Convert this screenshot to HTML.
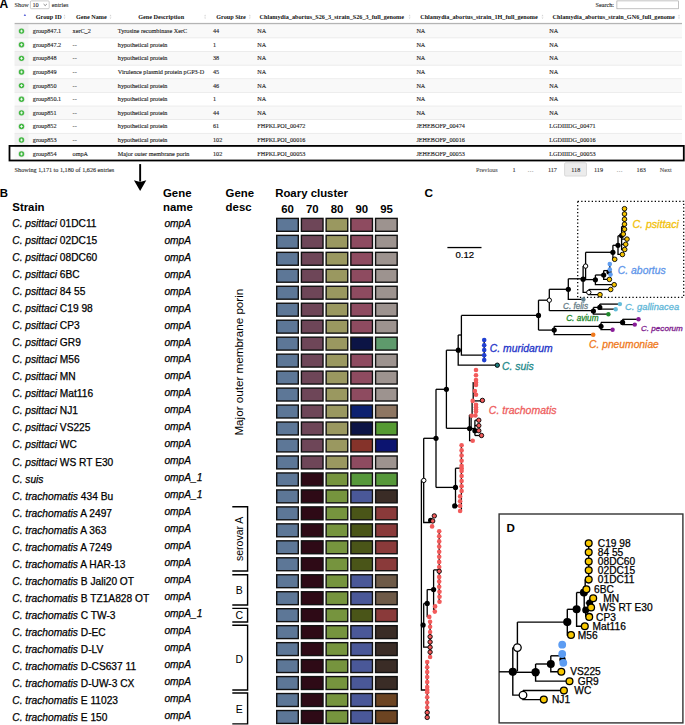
<!DOCTYPE html><html><head><meta charset="utf-8"><title>fig</title><style>
html,body{margin:0;padding:0;background:#fff;}
body{width:685px;height:725px;position:relative;overflow:hidden;}
svg{position:absolute;left:0;top:0;display:block;}
.sf{font-family:"Liberation Serif",serif;}
.ss{font-family:"Liberation Sans",sans-serif;}
</style></head><body>
<svg width="685" height="725" viewBox="0 0 685 725">
<g class="ss"><text x="-0.5" y="7.9" font-size="12" font-weight="bold" fill="#000">A</text></g>
<g class="sf" font-size="6.2" fill="#2a2a2a" stroke="#2a2a2a" stroke-width="0.1">
<text x="14.6" y="7">Show</text>
<rect x="30.4" y="0.9" width="18.8" height="7.8" rx="1" fill="#fff" stroke="#aaa" stroke-width="0.6"/>
<text x="32.5" y="7">10</text>
<path d="M43.6 4.1 L45.2 5.6 L46.8 4.1" fill="none" stroke="#333" stroke-width="0.6"/>
<text x="51.8" y="7">entries</text>
<text x="595.5" y="6.8">Search:</text>
<rect x="616.9" y="0.9" width="61.4" height="7.9" fill="#fff" stroke="#999" stroke-width="0.6"/>
</g>
<rect x="14.6" y="24.30" width="667.40" height="13.62" fill="#f9f9f9"/>
<rect x="14.6" y="24.30" width="13.8" height="13.62" fill="#f1f1f1"/>
<rect x="14.6" y="37.92" width="13.8" height="13.62" fill="#fafafa"/>
<rect x="14.6" y="37.62" width="667.40" height="0.6" fill="#e2e2e2"/>
<rect x="14.6" y="51.54" width="667.40" height="13.62" fill="#f9f9f9"/>
<rect x="14.6" y="51.54" width="13.8" height="13.62" fill="#f1f1f1"/>
<rect x="14.6" y="51.24" width="667.40" height="0.6" fill="#e2e2e2"/>
<rect x="14.6" y="65.16" width="13.8" height="13.62" fill="#fafafa"/>
<rect x="14.6" y="64.86" width="667.40" height="0.6" fill="#e2e2e2"/>
<rect x="14.6" y="78.78" width="667.40" height="13.62" fill="#f9f9f9"/>
<rect x="14.6" y="78.78" width="13.8" height="13.62" fill="#f1f1f1"/>
<rect x="14.6" y="78.48" width="667.40" height="0.6" fill="#e2e2e2"/>
<rect x="14.6" y="92.40" width="13.8" height="13.62" fill="#fafafa"/>
<rect x="14.6" y="92.10" width="667.40" height="0.6" fill="#e2e2e2"/>
<rect x="14.6" y="106.02" width="667.40" height="13.62" fill="#f9f9f9"/>
<rect x="14.6" y="106.02" width="13.8" height="13.62" fill="#f1f1f1"/>
<rect x="14.6" y="105.72" width="667.40" height="0.6" fill="#e2e2e2"/>
<rect x="14.6" y="119.64" width="13.8" height="13.62" fill="#fafafa"/>
<rect x="14.6" y="119.34" width="667.40" height="0.6" fill="#e2e2e2"/>
<rect x="14.6" y="133.26" width="667.40" height="13.62" fill="#f9f9f9"/>
<rect x="14.6" y="133.26" width="13.8" height="13.62" fill="#f1f1f1"/>
<rect x="14.6" y="132.96" width="667.40" height="0.6" fill="#e2e2e2"/>
<rect x="14.6" y="146.88" width="13.8" height="13.62" fill="#fafafa"/>
<rect x="14.6" y="146.58" width="667.40" height="0.6" fill="#e2e2e2"/>
<rect x="14.6" y="22.9" width="667.40" height="1.3" fill="#b4b4b4"/>
<g class="sf" font-size="6.2" font-weight="bold" fill="#111">
<text x="35.8" y="19">Group ID</text>
<text x="76" y="19">Gene Name</text>
<text x="138.2" y="19">Gene Description</text>
<text x="216.2" y="19">Group Size</text>
<text x="259.6" y="19">Chlamydia_abortus_S26_3_strain_S26_3_full_genome</text>
<text x="420.2" y="19">Chlamydia_abortus_strain_1H_full_genome</text>
<text x="552.6" y="19">Chlamydia_abortus_strain_GN6_full_genome</text>
</g>
<g fill="#d4d4d4">
<path d="M63.5 16.3 L64.5 14.6 L65.5 16.3Z M63.5 17.4 L64.5 19.1 L65.5 17.4Z"/>
<path d="M109.5 16.3 L110.5 14.6 L111.5 16.3Z M109.5 17.4 L110.5 19.1 L111.5 17.4Z"/>
<path d="M204.1 16.3 L205.1 14.6 L206.1 16.3Z M204.1 17.4 L205.1 19.1 L206.1 17.4Z"/>
<path d="M248.8 16.3 L249.8 14.6 L250.8 16.3Z M248.8 17.4 L249.8 19.1 L250.8 17.4Z"/>
<path d="M408.6 16.3 L409.6 14.6 L410.6 16.3Z M408.6 17.4 L409.6 19.1 L410.6 17.4Z"/>
<path d="M541.5 16.3 L542.5 14.6 L543.5 16.3Z M541.5 17.4 L542.5 19.1 L543.5 17.4Z"/>
<path d="M678.0 16.3 L679.0 14.6 L680.0 16.3Z M678.0 17.4 L679.0 19.1 L680.0 17.4Z"/>
</g>
<path d="M23.7 15.9 L24.9 13.8 L26.1 15.9Z" fill="#5a64d8"/>
<g class="sf" font-size="6.2" fill="#1e1e1e" stroke="#1e1e1e" stroke-width="0.12">
<text x="32.8" y="33.11">group847.1</text>
<text x="72.6" y="33.11">xerC_2</text>
<text x="117.8" y="33.11">Tyrosine recombinase XerC</text>
<text x="213.0" y="33.11">44</text>
<text x="257.3" y="33.11">NA</text>
<text x="416.4" y="33.11">NA</text>
<text x="549.2" y="33.11">NA</text>
<text x="32.8" y="46.73">group847.2</text>
<text x="72.6" y="46.73">--</text>
<text x="117.8" y="46.73">hypothetical protein</text>
<text x="213.0" y="46.73">1</text>
<text x="257.3" y="46.73">NA</text>
<text x="416.4" y="46.73">NA</text>
<text x="549.2" y="46.73">NA</text>
<text x="32.8" y="60.35">group848</text>
<text x="72.6" y="60.35">--</text>
<text x="117.8" y="60.35">hypothetical protein</text>
<text x="213.0" y="60.35">38</text>
<text x="257.3" y="60.35">NA</text>
<text x="416.4" y="60.35">NA</text>
<text x="549.2" y="60.35">NA</text>
<text x="32.8" y="73.97">group849</text>
<text x="72.6" y="73.97">--</text>
<text x="117.8" y="73.97">Virulence plasmid protein pGP3-D</text>
<text x="213.0" y="73.97">45</text>
<text x="257.3" y="73.97">NA</text>
<text x="416.4" y="73.97">NA</text>
<text x="549.2" y="73.97">NA</text>
<text x="32.8" y="87.59">group850</text>
<text x="72.6" y="87.59">--</text>
<text x="117.8" y="87.59">hypothetical protein</text>
<text x="213.0" y="87.59">46</text>
<text x="257.3" y="87.59">NA</text>
<text x="416.4" y="87.59">NA</text>
<text x="549.2" y="87.59">NA</text>
<text x="32.8" y="101.21">group850.1</text>
<text x="72.6" y="101.21">--</text>
<text x="117.8" y="101.21">hypothetical protein</text>
<text x="213.0" y="101.21">1</text>
<text x="257.3" y="101.21">NA</text>
<text x="416.4" y="101.21">NA</text>
<text x="549.2" y="101.21">NA</text>
<text x="32.8" y="114.83">group851</text>
<text x="72.6" y="114.83">--</text>
<text x="117.8" y="114.83">hypothetical protein</text>
<text x="213.0" y="114.83">44</text>
<text x="257.3" y="114.83">NA</text>
<text x="416.4" y="114.83">NA</text>
<text x="549.2" y="114.83">NA</text>
<text x="32.8" y="128.45">group852</text>
<text x="72.6" y="128.45">--</text>
<text x="117.8" y="128.45">hypothetical protein</text>
<text x="213.0" y="128.45">61</text>
<text x="257.3" y="128.45">FHPKLPOI_00472</text>
<text x="416.4" y="128.45">JEHEBOFP_00474</text>
<text x="549.2" y="128.45">LGDIIIDG_00471</text>
<text x="32.8" y="142.07">group853</text>
<text x="72.6" y="142.07">--</text>
<text x="117.8" y="142.07">hypothetical protein</text>
<text x="213.0" y="142.07">102</text>
<text x="257.3" y="142.07">FHPKLPOI_00016</text>
<text x="416.4" y="142.07">JEHEBOFP_00016</text>
<text x="549.2" y="142.07">LGDIIIDG_00016</text>
<text x="32.8" y="155.99">group854</text>
<text x="72.6" y="155.99">ompA</text>
<text x="117.8" y="155.99">Major outer membrane porin</text>
<text x="213.0" y="155.99">102</text>
<text x="257.3" y="155.99">FHPKLPOI_00053</text>
<text x="416.4" y="155.99">JEHEBOFP_00053</text>
<text x="549.2" y="155.99">LGDIIIDG_00053</text>
</g>
<circle cx="21.5" cy="31.11" r="3.4" fill="#e4e8e4"/>
<circle cx="21.5" cy="31.11" r="2.7" fill="#42b842"/>
<path d="M20.1 31.11 H22.9 M21.5 29.71 V32.51" stroke="#fff" stroke-width="0.8"/>
<circle cx="21.5" cy="44.73" r="3.4" fill="#e4e8e4"/>
<circle cx="21.5" cy="44.73" r="2.7" fill="#42b842"/>
<path d="M20.1 44.73 H22.9 M21.5 43.33 V46.13" stroke="#fff" stroke-width="0.8"/>
<circle cx="21.5" cy="58.35" r="3.4" fill="#e4e8e4"/>
<circle cx="21.5" cy="58.35" r="2.7" fill="#42b842"/>
<path d="M20.1 58.35 H22.9 M21.5 56.95 V59.75" stroke="#fff" stroke-width="0.8"/>
<circle cx="21.5" cy="71.97" r="3.4" fill="#e4e8e4"/>
<circle cx="21.5" cy="71.97" r="2.7" fill="#42b842"/>
<path d="M20.1 71.97 H22.9 M21.5 70.57 V73.37" stroke="#fff" stroke-width="0.8"/>
<circle cx="21.5" cy="85.59" r="3.4" fill="#e4e8e4"/>
<circle cx="21.5" cy="85.59" r="2.7" fill="#42b842"/>
<path d="M20.1 85.59 H22.9 M21.5 84.19 V86.99" stroke="#fff" stroke-width="0.8"/>
<circle cx="21.5" cy="99.21" r="3.4" fill="#e4e8e4"/>
<circle cx="21.5" cy="99.21" r="2.7" fill="#42b842"/>
<path d="M20.1 99.21 H22.9 M21.5 97.81 V100.61" stroke="#fff" stroke-width="0.8"/>
<circle cx="21.5" cy="112.83" r="3.4" fill="#e4e8e4"/>
<circle cx="21.5" cy="112.83" r="2.7" fill="#42b842"/>
<path d="M20.1 112.83 H22.9 M21.5 111.43 V114.23" stroke="#fff" stroke-width="0.8"/>
<circle cx="21.5" cy="126.45" r="3.4" fill="#e4e8e4"/>
<circle cx="21.5" cy="126.45" r="2.7" fill="#42b842"/>
<path d="M20.1 126.45 H22.9 M21.5 125.05 V127.85" stroke="#fff" stroke-width="0.8"/>
<circle cx="21.5" cy="140.07" r="3.4" fill="#e4e8e4"/>
<circle cx="21.5" cy="140.07" r="2.7" fill="#42b842"/>
<path d="M20.1 140.07 H22.9 M21.5 138.67 V141.47" stroke="#fff" stroke-width="0.8"/>
<circle cx="21.5" cy="153.99" r="3.4" fill="#e4e8e4"/>
<circle cx="21.5" cy="153.99" r="2.7" fill="#42b842"/>
<path d="M20.1 153.99 H22.9 M21.5 152.59 V155.39" stroke="#fff" stroke-width="0.8"/>
<rect x="9.5" y="145.9" width="674.3" height="14.6" fill="none" stroke="#000" stroke-width="1.8"/>
<g class="sf" font-size="6.2" fill="#2a2a2a" stroke="#2a2a2a" stroke-width="0.1">
<text x="14.6" y="171.8">Showing 1,171 to 1,180 of 1,626 entries</text>
<rect x="564.6" y="162.7" width="21.9" height="13.4" rx="1.2" fill="#ececec" stroke="#c8c8c8" stroke-width="0.6"/>
<text x="476.1" y="172" fill="#555" stroke="#555">Previous</text>
<text x="512.6" y="172" fill="#2a2a2a" stroke="#2a2a2a">1</text>
<text x="527.6" y="172" fill="#999" stroke="#999">…</text>
<text x="547.9" y="172" fill="#2a2a2a" stroke="#2a2a2a">117</text>
<text x="571.2" y="172" fill="#2a2a2a" stroke="#2a2a2a">118</text>
<text x="594" y="172" fill="#2a2a2a" stroke="#2a2a2a">119</text>
<text x="616.6" y="172" fill="#999" stroke="#999">…</text>
<text x="636.6" y="172" fill="#2a2a2a" stroke="#2a2a2a">163</text>
<text x="659.8" y="172" fill="#555" stroke="#555">Next</text>
</g>
<rect x="139.2" y="164.1" width="1.9" height="17.5" fill="#000"/>
<path d="M133.9 180.2 L140.15 182 L146.3 180.2 L140.15 191Z" fill="#000"/>
<g class="ss" font-weight="bold" font-size="11.4" fill="#000">
<text x="-0.3" y="196.6">B</text>
<text x="12.3" y="211.2">Strain</text>
<text x="163" y="197.4">Gene</text>
<text x="163" y="211.2">name</text>
<text x="225.6" y="197.4">Gene</text>
<text x="225.6" y="211.2">desc</text>
<text x="275.2" y="197.4">Roary cluster</text>
<text x="287.60" y="213.4" text-anchor="middle">60</text>
<text x="312.32" y="213.4" text-anchor="middle">70</text>
<text x="337.04" y="213.4" text-anchor="middle">80</text>
<text x="361.76" y="213.4" text-anchor="middle">90</text>
<text x="386.48" y="213.4" text-anchor="middle">95</text>
</g>
<g class="ss" font-size="10.2" fill="#000" stroke="#000" stroke-width="0.25">
<text x="12.3" y="226.80"><tspan font-style="italic">C. psittaci</tspan> 01DC11</text>
<text x="164.4" y="226.80" font-style="italic">ompA</text>
<text x="12.3" y="243.85"><tspan font-style="italic">C. psittaci</tspan> 02DC15</text>
<text x="164.4" y="243.76" font-style="italic">ompA</text>
<text x="12.3" y="260.90"><tspan font-style="italic">C. psittaci</tspan> 08DC60</text>
<text x="164.4" y="260.72" font-style="italic">ompA</text>
<text x="12.3" y="277.95"><tspan font-style="italic">C. psittaci</tspan> 6BC</text>
<text x="164.4" y="277.68" font-style="italic">ompA</text>
<text x="12.3" y="295.00"><tspan font-style="italic">C. psittaci</tspan> 84 55</text>
<text x="164.4" y="294.64" font-style="italic">ompA</text>
<text x="12.3" y="312.05"><tspan font-style="italic">C. psittaci</tspan> C19 98</text>
<text x="164.4" y="311.60" font-style="italic">ompA</text>
<text x="12.3" y="329.10"><tspan font-style="italic">C. psittaci</tspan> CP3</text>
<text x="164.4" y="328.56" font-style="italic">ompA</text>
<text x="12.3" y="346.15"><tspan font-style="italic">C. psittaci</tspan> GR9</text>
<text x="164.4" y="345.52" font-style="italic">ompA</text>
<text x="12.3" y="363.20"><tspan font-style="italic">C. psittaci</tspan> M56</text>
<text x="164.4" y="362.48" font-style="italic">ompA</text>
<text x="12.3" y="380.25"><tspan font-style="italic">C. psittaci</tspan> MN</text>
<text x="164.4" y="379.44" font-style="italic">ompA</text>
<text x="12.3" y="397.30"><tspan font-style="italic">C. psittaci</tspan> Mat116</text>
<text x="164.4" y="396.40" font-style="italic">ompA</text>
<text x="12.3" y="414.35"><tspan font-style="italic">C. psittaci</tspan> NJ1</text>
<text x="164.4" y="413.36" font-style="italic">ompA</text>
<text x="12.3" y="431.40"><tspan font-style="italic">C. psittaci</tspan> VS225</text>
<text x="164.4" y="430.32" font-style="italic">ompA</text>
<text x="12.3" y="448.45"><tspan font-style="italic">C. psittaci</tspan> WC</text>
<text x="164.4" y="447.28" font-style="italic">ompA</text>
<text x="12.3" y="465.50"><tspan font-style="italic">C. psittaci</tspan> WS RT E30</text>
<text x="164.4" y="464.24" font-style="italic">ompA</text>
<text x="12.3" y="482.55"><tspan font-style="italic">C. suis</tspan></text>
<text x="164.4" y="481.20" font-style="italic">ompA_1</text>
<text x="12.3" y="499.60"><tspan font-style="italic">C. trachomatis</tspan> 434 Bu</text>
<text x="164.4" y="498.16" font-style="italic">ompA_1</text>
<text x="12.3" y="516.65"><tspan font-style="italic">C. trachomatis</tspan> A 2497</text>
<text x="164.4" y="515.12" font-style="italic">ompA</text>
<text x="12.3" y="533.70"><tspan font-style="italic">C. trachomatis</tspan> A 363</text>
<text x="164.4" y="532.08" font-style="italic">ompA</text>
<text x="12.3" y="550.75"><tspan font-style="italic">C. trachomatis</tspan> A 7249</text>
<text x="164.4" y="549.04" font-style="italic">ompA</text>
<text x="12.3" y="567.80"><tspan font-style="italic">C. trachomatis</tspan> A HAR-13</text>
<text x="164.4" y="566.00" font-style="italic">ompA</text>
<text x="12.3" y="584.85"><tspan font-style="italic">C. trachomatis</tspan> B Jali20 OT</text>
<text x="164.4" y="582.96" font-style="italic">ompA</text>
<text x="12.3" y="601.90"><tspan font-style="italic">C. trachomatis</tspan> B TZ1A828 OT</text>
<text x="164.4" y="599.92" font-style="italic">ompA</text>
<text x="12.3" y="618.95"><tspan font-style="italic">C. trachomatis</tspan> C TW-3</text>
<text x="164.4" y="616.88" font-style="italic">ompA_1</text>
<text x="12.3" y="636.00"><tspan font-style="italic">C. trachomatis</tspan> D-EC</text>
<text x="164.4" y="633.84" font-style="italic">ompA</text>
<text x="12.3" y="653.05"><tspan font-style="italic">C. trachomatis</tspan> D-LV</text>
<text x="164.4" y="650.80" font-style="italic">ompA</text>
<text x="12.3" y="670.10"><tspan font-style="italic">C. trachomatis</tspan> D-CS637 11</text>
<text x="164.4" y="667.76" font-style="italic">ompA</text>
<text x="12.3" y="687.15"><tspan font-style="italic">C. trachomatis</tspan> D-UW-3 CX</text>
<text x="164.4" y="684.72" font-style="italic">ompA</text>
<text x="12.3" y="704.20"><tspan font-style="italic">C. trachomatis</tspan> E 11023</text>
<text x="164.4" y="701.68" font-style="italic">ompA</text>
<text x="12.3" y="721.25"><tspan font-style="italic">C. trachomatis</tspan> E 150</text>
<text x="164.4" y="718.64" font-style="italic">ompA</text>
</g>
<text class="ss" font-size="11.65" fill="#000" transform="translate(243.1,435.6) rotate(-90)">Major outer membrane porin</text>
<g fill="none" stroke="#000" stroke-width="1.4">
<path d="M232.3 506.7 H247.6 V571.0 H232.3"/>
<path d="M232.3 574.8 H247.6 V605.0 H232.3"/>
<path d="M232.3 608.4 H247.6 V622.0 H232.3"/>
<path d="M232.3 625.3 H247.6 V690.0 H232.3"/>
<path d="M232.3 693.0 H247.6 V723.9 H232.3"/>
</g>
<text class="ss" font-size="10.5" fill="#000" transform="translate(243.0,561.0) rotate(-90)">serovar A</text>
<g class="ss" font-size="10.5" fill="#000" text-anchor="middle">
<text x="239.3" y="594.10">B</text>
<text x="239.3" y="619.40">C</text>
<text x="239.3" y="662.65">D</text>
<text x="239.3" y="712.65">E</text>
</g>
<rect x="276.70" y="218.40" width="21.60" height="12.90" fill="#5d7797" stroke="#111" stroke-width="1.4"/>
<rect x="301.42" y="218.40" width="21.60" height="12.90" fill="#6e4658" stroke="#111" stroke-width="1.4"/>
<rect x="326.14" y="218.40" width="21.60" height="12.90" fill="#9a9860" stroke="#111" stroke-width="1.4"/>
<rect x="350.86" y="218.40" width="21.60" height="12.90" fill="#8e4b60" stroke="#111" stroke-width="1.4"/>
<rect x="375.58" y="218.40" width="21.60" height="12.90" fill="#9d938f" stroke="#111" stroke-width="1.4"/>
<rect x="276.70" y="235.37" width="21.60" height="12.90" fill="#5d7797" stroke="#111" stroke-width="1.4"/>
<rect x="301.42" y="235.37" width="21.60" height="12.90" fill="#6e4658" stroke="#111" stroke-width="1.4"/>
<rect x="326.14" y="235.37" width="21.60" height="12.90" fill="#9a9860" stroke="#111" stroke-width="1.4"/>
<rect x="350.86" y="235.37" width="21.60" height="12.90" fill="#8e4b60" stroke="#111" stroke-width="1.4"/>
<rect x="375.58" y="235.37" width="21.60" height="12.90" fill="#9d938f" stroke="#111" stroke-width="1.4"/>
<rect x="276.70" y="252.34" width="21.60" height="12.90" fill="#5d7797" stroke="#111" stroke-width="1.4"/>
<rect x="301.42" y="252.34" width="21.60" height="12.90" fill="#6e4658" stroke="#111" stroke-width="1.4"/>
<rect x="326.14" y="252.34" width="21.60" height="12.90" fill="#9a9860" stroke="#111" stroke-width="1.4"/>
<rect x="350.86" y="252.34" width="21.60" height="12.90" fill="#8e4b60" stroke="#111" stroke-width="1.4"/>
<rect x="375.58" y="252.34" width="21.60" height="12.90" fill="#9d938f" stroke="#111" stroke-width="1.4"/>
<rect x="276.70" y="269.31" width="21.60" height="12.90" fill="#5d7797" stroke="#111" stroke-width="1.4"/>
<rect x="301.42" y="269.31" width="21.60" height="12.90" fill="#6e4658" stroke="#111" stroke-width="1.4"/>
<rect x="326.14" y="269.31" width="21.60" height="12.90" fill="#9a9860" stroke="#111" stroke-width="1.4"/>
<rect x="350.86" y="269.31" width="21.60" height="12.90" fill="#8e4b60" stroke="#111" stroke-width="1.4"/>
<rect x="375.58" y="269.31" width="21.60" height="12.90" fill="#9d938f" stroke="#111" stroke-width="1.4"/>
<rect x="276.70" y="286.28" width="21.60" height="12.90" fill="#5d7797" stroke="#111" stroke-width="1.4"/>
<rect x="301.42" y="286.28" width="21.60" height="12.90" fill="#6e4658" stroke="#111" stroke-width="1.4"/>
<rect x="326.14" y="286.28" width="21.60" height="12.90" fill="#9a9860" stroke="#111" stroke-width="1.4"/>
<rect x="350.86" y="286.28" width="21.60" height="12.90" fill="#8e4b60" stroke="#111" stroke-width="1.4"/>
<rect x="375.58" y="286.28" width="21.60" height="12.90" fill="#9d938f" stroke="#111" stroke-width="1.4"/>
<rect x="276.70" y="303.25" width="21.60" height="12.90" fill="#5d7797" stroke="#111" stroke-width="1.4"/>
<rect x="301.42" y="303.25" width="21.60" height="12.90" fill="#6e4658" stroke="#111" stroke-width="1.4"/>
<rect x="326.14" y="303.25" width="21.60" height="12.90" fill="#9a9860" stroke="#111" stroke-width="1.4"/>
<rect x="350.86" y="303.25" width="21.60" height="12.90" fill="#8e4b60" stroke="#111" stroke-width="1.4"/>
<rect x="375.58" y="303.25" width="21.60" height="12.90" fill="#9d938f" stroke="#111" stroke-width="1.4"/>
<rect x="276.70" y="320.22" width="21.60" height="12.90" fill="#5d7797" stroke="#111" stroke-width="1.4"/>
<rect x="301.42" y="320.22" width="21.60" height="12.90" fill="#6e4658" stroke="#111" stroke-width="1.4"/>
<rect x="326.14" y="320.22" width="21.60" height="12.90" fill="#9a9860" stroke="#111" stroke-width="1.4"/>
<rect x="350.86" y="320.22" width="21.60" height="12.90" fill="#8e4b60" stroke="#111" stroke-width="1.4"/>
<rect x="375.58" y="320.22" width="21.60" height="12.90" fill="#9d938f" stroke="#111" stroke-width="1.4"/>
<rect x="276.70" y="337.19" width="21.60" height="12.90" fill="#5d7797" stroke="#111" stroke-width="1.4"/>
<rect x="301.42" y="337.19" width="21.60" height="12.90" fill="#6e4658" stroke="#111" stroke-width="1.4"/>
<rect x="326.14" y="337.19" width="21.60" height="12.90" fill="#9a9860" stroke="#111" stroke-width="1.4"/>
<rect x="350.86" y="337.19" width="21.60" height="12.90" fill="#0c1445" stroke="#111" stroke-width="1.4"/>
<rect x="375.58" y="337.19" width="21.60" height="12.90" fill="#5e9a6c" stroke="#111" stroke-width="1.4"/>
<rect x="276.70" y="354.16" width="21.60" height="12.90" fill="#5d7797" stroke="#111" stroke-width="1.4"/>
<rect x="301.42" y="354.16" width="21.60" height="12.90" fill="#6e4658" stroke="#111" stroke-width="1.4"/>
<rect x="326.14" y="354.16" width="21.60" height="12.90" fill="#9a9860" stroke="#111" stroke-width="1.4"/>
<rect x="350.86" y="354.16" width="21.60" height="12.90" fill="#8e4b60" stroke="#111" stroke-width="1.4"/>
<rect x="375.58" y="354.16" width="21.60" height="12.90" fill="#9d938f" stroke="#111" stroke-width="1.4"/>
<rect x="276.70" y="371.13" width="21.60" height="12.90" fill="#5d7797" stroke="#111" stroke-width="1.4"/>
<rect x="301.42" y="371.13" width="21.60" height="12.90" fill="#6e4658" stroke="#111" stroke-width="1.4"/>
<rect x="326.14" y="371.13" width="21.60" height="12.90" fill="#9a9860" stroke="#111" stroke-width="1.4"/>
<rect x="350.86" y="371.13" width="21.60" height="12.90" fill="#8e4b60" stroke="#111" stroke-width="1.4"/>
<rect x="375.58" y="371.13" width="21.60" height="12.90" fill="#9d938f" stroke="#111" stroke-width="1.4"/>
<rect x="276.70" y="388.10" width="21.60" height="12.90" fill="#5d7797" stroke="#111" stroke-width="1.4"/>
<rect x="301.42" y="388.10" width="21.60" height="12.90" fill="#6e4658" stroke="#111" stroke-width="1.4"/>
<rect x="326.14" y="388.10" width="21.60" height="12.90" fill="#9a9860" stroke="#111" stroke-width="1.4"/>
<rect x="350.86" y="388.10" width="21.60" height="12.90" fill="#8e4b60" stroke="#111" stroke-width="1.4"/>
<rect x="375.58" y="388.10" width="21.60" height="12.90" fill="#9d938f" stroke="#111" stroke-width="1.4"/>
<rect x="276.70" y="405.07" width="21.60" height="12.90" fill="#5d7797" stroke="#111" stroke-width="1.4"/>
<rect x="301.42" y="405.07" width="21.60" height="12.90" fill="#6e4658" stroke="#111" stroke-width="1.4"/>
<rect x="326.14" y="405.07" width="21.60" height="12.90" fill="#9a9860" stroke="#111" stroke-width="1.4"/>
<rect x="350.86" y="405.07" width="21.60" height="12.90" fill="#0c2170" stroke="#111" stroke-width="1.4"/>
<rect x="375.58" y="405.07" width="21.60" height="12.90" fill="#8e7662" stroke="#111" stroke-width="1.4"/>
<rect x="276.70" y="422.04" width="21.60" height="12.90" fill="#5d7797" stroke="#111" stroke-width="1.4"/>
<rect x="301.42" y="422.04" width="21.60" height="12.90" fill="#6e4658" stroke="#111" stroke-width="1.4"/>
<rect x="326.14" y="422.04" width="21.60" height="12.90" fill="#9a9860" stroke="#111" stroke-width="1.4"/>
<rect x="350.86" y="422.04" width="21.60" height="12.90" fill="#0c1445" stroke="#111" stroke-width="1.4"/>
<rect x="375.58" y="422.04" width="21.60" height="12.90" fill="#559a32" stroke="#111" stroke-width="1.4"/>
<rect x="276.70" y="439.01" width="21.60" height="12.90" fill="#5d7797" stroke="#111" stroke-width="1.4"/>
<rect x="301.42" y="439.01" width="21.60" height="12.90" fill="#6e4658" stroke="#111" stroke-width="1.4"/>
<rect x="326.14" y="439.01" width="21.60" height="12.90" fill="#9a9860" stroke="#111" stroke-width="1.4"/>
<rect x="350.86" y="439.01" width="21.60" height="12.90" fill="#85332a" stroke="#111" stroke-width="1.4"/>
<rect x="375.58" y="439.01" width="21.60" height="12.90" fill="#0c1470" stroke="#111" stroke-width="1.4"/>
<rect x="276.70" y="455.98" width="21.60" height="12.90" fill="#5d7797" stroke="#111" stroke-width="1.4"/>
<rect x="301.42" y="455.98" width="21.60" height="12.90" fill="#6e4658" stroke="#111" stroke-width="1.4"/>
<rect x="326.14" y="455.98" width="21.60" height="12.90" fill="#9a9860" stroke="#111" stroke-width="1.4"/>
<rect x="350.86" y="455.98" width="21.60" height="12.90" fill="#8e4b60" stroke="#111" stroke-width="1.4"/>
<rect x="375.58" y="455.98" width="21.60" height="12.90" fill="#9d938f" stroke="#111" stroke-width="1.4"/>
<rect x="276.70" y="472.95" width="21.60" height="12.90" fill="#5d7797" stroke="#111" stroke-width="1.4"/>
<rect x="301.42" y="472.95" width="21.60" height="12.90" fill="#2e0a16" stroke="#111" stroke-width="1.4"/>
<rect x="326.14" y="472.95" width="21.60" height="12.90" fill="#76943e" stroke="#111" stroke-width="1.4"/>
<rect x="350.86" y="472.95" width="21.60" height="12.90" fill="#56983a" stroke="#111" stroke-width="1.4"/>
<rect x="375.58" y="472.95" width="21.60" height="12.90" fill="#56983a" stroke="#111" stroke-width="1.4"/>
<rect x="276.70" y="489.92" width="21.60" height="12.90" fill="#5d7797" stroke="#111" stroke-width="1.4"/>
<rect x="301.42" y="489.92" width="21.60" height="12.90" fill="#2e0a16" stroke="#111" stroke-width="1.4"/>
<rect x="326.14" y="489.92" width="21.60" height="12.90" fill="#76943e" stroke="#111" stroke-width="1.4"/>
<rect x="350.86" y="489.92" width="21.60" height="12.90" fill="#4a5898" stroke="#111" stroke-width="1.4"/>
<rect x="375.58" y="489.92" width="21.60" height="12.90" fill="#3a2c26" stroke="#111" stroke-width="1.4"/>
<rect x="276.70" y="506.89" width="21.60" height="12.90" fill="#5d7797" stroke="#111" stroke-width="1.4"/>
<rect x="301.42" y="506.89" width="21.60" height="12.90" fill="#2e0a16" stroke="#111" stroke-width="1.4"/>
<rect x="326.14" y="506.89" width="21.60" height="12.90" fill="#76943e" stroke="#111" stroke-width="1.4"/>
<rect x="350.86" y="506.89" width="21.60" height="12.90" fill="#4a5518" stroke="#111" stroke-width="1.4"/>
<rect x="375.58" y="506.89" width="21.60" height="12.90" fill="#8a3a3a" stroke="#111" stroke-width="1.4"/>
<rect x="276.70" y="523.86" width="21.60" height="12.90" fill="#5d7797" stroke="#111" stroke-width="1.4"/>
<rect x="301.42" y="523.86" width="21.60" height="12.90" fill="#2e0a16" stroke="#111" stroke-width="1.4"/>
<rect x="326.14" y="523.86" width="21.60" height="12.90" fill="#76943e" stroke="#111" stroke-width="1.4"/>
<rect x="350.86" y="523.86" width="21.60" height="12.90" fill="#4a5518" stroke="#111" stroke-width="1.4"/>
<rect x="375.58" y="523.86" width="21.60" height="12.90" fill="#8a3a3a" stroke="#111" stroke-width="1.4"/>
<rect x="276.70" y="540.83" width="21.60" height="12.90" fill="#5d7797" stroke="#111" stroke-width="1.4"/>
<rect x="301.42" y="540.83" width="21.60" height="12.90" fill="#2e0a16" stroke="#111" stroke-width="1.4"/>
<rect x="326.14" y="540.83" width="21.60" height="12.90" fill="#76943e" stroke="#111" stroke-width="1.4"/>
<rect x="350.86" y="540.83" width="21.60" height="12.90" fill="#4a5518" stroke="#111" stroke-width="1.4"/>
<rect x="375.58" y="540.83" width="21.60" height="12.90" fill="#8a3a3a" stroke="#111" stroke-width="1.4"/>
<rect x="276.70" y="557.80" width="21.60" height="12.90" fill="#5d7797" stroke="#111" stroke-width="1.4"/>
<rect x="301.42" y="557.80" width="21.60" height="12.90" fill="#2e0a16" stroke="#111" stroke-width="1.4"/>
<rect x="326.14" y="557.80" width="21.60" height="12.90" fill="#76943e" stroke="#111" stroke-width="1.4"/>
<rect x="350.86" y="557.80" width="21.60" height="12.90" fill="#4a5518" stroke="#111" stroke-width="1.4"/>
<rect x="375.58" y="557.80" width="21.60" height="12.90" fill="#8a3a3a" stroke="#111" stroke-width="1.4"/>
<rect x="276.70" y="574.77" width="21.60" height="12.90" fill="#5d7797" stroke="#111" stroke-width="1.4"/>
<rect x="301.42" y="574.77" width="21.60" height="12.90" fill="#2e0a16" stroke="#111" stroke-width="1.4"/>
<rect x="326.14" y="574.77" width="21.60" height="12.90" fill="#76943e" stroke="#111" stroke-width="1.4"/>
<rect x="350.86" y="574.77" width="21.60" height="12.90" fill="#4a5898" stroke="#111" stroke-width="1.4"/>
<rect x="375.58" y="574.77" width="21.60" height="12.90" fill="#6e5a48" stroke="#111" stroke-width="1.4"/>
<rect x="276.70" y="591.74" width="21.60" height="12.90" fill="#5d7797" stroke="#111" stroke-width="1.4"/>
<rect x="301.42" y="591.74" width="21.60" height="12.90" fill="#2e0a16" stroke="#111" stroke-width="1.4"/>
<rect x="326.14" y="591.74" width="21.60" height="12.90" fill="#76943e" stroke="#111" stroke-width="1.4"/>
<rect x="350.86" y="591.74" width="21.60" height="12.90" fill="#4a5898" stroke="#111" stroke-width="1.4"/>
<rect x="375.58" y="591.74" width="21.60" height="12.90" fill="#6e5a48" stroke="#111" stroke-width="1.4"/>
<rect x="276.70" y="608.71" width="21.60" height="12.90" fill="#5d7797" stroke="#111" stroke-width="1.4"/>
<rect x="301.42" y="608.71" width="21.60" height="12.90" fill="#2e0a16" stroke="#111" stroke-width="1.4"/>
<rect x="326.14" y="608.71" width="21.60" height="12.90" fill="#76943e" stroke="#111" stroke-width="1.4"/>
<rect x="350.86" y="608.71" width="21.60" height="12.90" fill="#4a5518" stroke="#111" stroke-width="1.4"/>
<rect x="375.58" y="608.71" width="21.60" height="12.90" fill="#8a3a3a" stroke="#111" stroke-width="1.4"/>
<rect x="276.70" y="625.68" width="21.60" height="12.90" fill="#5d7797" stroke="#111" stroke-width="1.4"/>
<rect x="301.42" y="625.68" width="21.60" height="12.90" fill="#2e0a16" stroke="#111" stroke-width="1.4"/>
<rect x="326.14" y="625.68" width="21.60" height="12.90" fill="#76943e" stroke="#111" stroke-width="1.4"/>
<rect x="350.86" y="625.68" width="21.60" height="12.90" fill="#4a5898" stroke="#111" stroke-width="1.4"/>
<rect x="375.58" y="625.68" width="21.60" height="12.90" fill="#3a2c26" stroke="#111" stroke-width="1.4"/>
<rect x="276.70" y="642.65" width="21.60" height="12.90" fill="#5d7797" stroke="#111" stroke-width="1.4"/>
<rect x="301.42" y="642.65" width="21.60" height="12.90" fill="#2e0a16" stroke="#111" stroke-width="1.4"/>
<rect x="326.14" y="642.65" width="21.60" height="12.90" fill="#76943e" stroke="#111" stroke-width="1.4"/>
<rect x="350.86" y="642.65" width="21.60" height="12.90" fill="#4a5898" stroke="#111" stroke-width="1.4"/>
<rect x="375.58" y="642.65" width="21.60" height="12.90" fill="#3a2c26" stroke="#111" stroke-width="1.4"/>
<rect x="276.70" y="659.62" width="21.60" height="12.90" fill="#5d7797" stroke="#111" stroke-width="1.4"/>
<rect x="301.42" y="659.62" width="21.60" height="12.90" fill="#2e0a16" stroke="#111" stroke-width="1.4"/>
<rect x="326.14" y="659.62" width="21.60" height="12.90" fill="#76943e" stroke="#111" stroke-width="1.4"/>
<rect x="350.86" y="659.62" width="21.60" height="12.90" fill="#4a5898" stroke="#111" stroke-width="1.4"/>
<rect x="375.58" y="659.62" width="21.60" height="12.90" fill="#3a2c26" stroke="#111" stroke-width="1.4"/>
<rect x="276.70" y="676.59" width="21.60" height="12.90" fill="#5d7797" stroke="#111" stroke-width="1.4"/>
<rect x="301.42" y="676.59" width="21.60" height="12.90" fill="#2e0a16" stroke="#111" stroke-width="1.4"/>
<rect x="326.14" y="676.59" width="21.60" height="12.90" fill="#76943e" stroke="#111" stroke-width="1.4"/>
<rect x="350.86" y="676.59" width="21.60" height="12.90" fill="#4a5898" stroke="#111" stroke-width="1.4"/>
<rect x="375.58" y="676.59" width="21.60" height="12.90" fill="#3a2c26" stroke="#111" stroke-width="1.4"/>
<rect x="276.70" y="693.56" width="21.60" height="12.90" fill="#5d7797" stroke="#111" stroke-width="1.4"/>
<rect x="301.42" y="693.56" width="21.60" height="12.90" fill="#2e0a16" stroke="#111" stroke-width="1.4"/>
<rect x="326.14" y="693.56" width="21.60" height="12.90" fill="#76943e" stroke="#111" stroke-width="1.4"/>
<rect x="350.86" y="693.56" width="21.60" height="12.90" fill="#4a5898" stroke="#111" stroke-width="1.4"/>
<rect x="375.58" y="693.56" width="21.60" height="12.90" fill="#6c4422" stroke="#111" stroke-width="1.4"/>
<rect x="276.70" y="710.53" width="21.60" height="12.90" fill="#5d7797" stroke="#111" stroke-width="1.4"/>
<rect x="301.42" y="710.53" width="21.60" height="12.90" fill="#2e0a16" stroke="#111" stroke-width="1.4"/>
<rect x="326.14" y="710.53" width="21.60" height="12.90" fill="#76943e" stroke="#111" stroke-width="1.4"/>
<rect x="350.86" y="710.53" width="21.60" height="12.90" fill="#4a5898" stroke="#111" stroke-width="1.4"/>
<rect x="375.58" y="710.53" width="21.60" height="12.90" fill="#6c4422" stroke="#111" stroke-width="1.4"/>
<text class="ss" x="424.4" y="197" font-size="11.8" font-weight="bold" fill="#000">C</text>
<rect x="447.4" y="246.9" width="34.1" height="1.3" fill="#000"/>
<text class="ss" x="455.4" y="257.7" font-size="9.6" fill="#000" stroke="#000" stroke-width="0.2">0.12</text>
<rect x="577.7" y="201.3" width="106" height="96" fill="none" stroke="#000" stroke-width="1.3" stroke-dasharray="1.3 2.2"/>
<g fill="none" stroke="#000" stroke-width="1.3">
<path d="M423.8 480.4 H421.4 V690 H426.5"/>
<path d="M423.7 438.3 V522.5 H430.6"/>
<path d="M423.7 438.3 H436"/>
<path d="M436 389.3 V487.4"/>
<path d="M436 389.3 H446.4"/>
<path d="M436 487.4 H455.5"/>
<path d="M446.4 350.2 V428.3"/>
<path d="M446.4 350.2 H458.3"/>
<path d="M446.4 428.3 H469.6"/>
<path d="M458.2 335 V365.2 H497.3"/>
<path d="M458.2 335 H461.4"/>
<path d="M461.4 315.4 V355.2 H484.2"/>
<path d="M461.4 315.4 H538.5"/>
<path d="M538.5 300.2 V330.1"/>
<path d="M538.5 300.2 H549.3"/>
<path d="M538.5 330.1 H554.2"/>
<path d="M549.3 289.3 V310.7"/>
<path d="M549.3 289.3 H568.3"/>
<path d="M549.3 310.7 H593.4"/>
<path d="M568.3 278.8 V299.4 H583.4"/>
<path d="M568.3 278.8 H583.1"/>
<path d="M583.1 266.1 V292.4 H588.8"/>
<path d="M585.6 252.3 V279.3"/>
<path d="M585.6 252.3 H612.9"/>
<path d="M583.1 279.6 H595.4"/>
<path d="M612.9 245.3 V259.3 H614.7"/>
<path d="M612.9 245.3 H618"/>
<path d="M618 235.8 V254.4 H622.4"/>
<path d="M618 235.8 H621.6"/>
<path d="M621.6 226.5 V249.5 H624.7"/>
<path d="M621.6 226.5 H624.5"/>
<path d="M621.6 239.1 H627"/>
<path d="M621.6 244.3 H625.7"/>
<path d="M624.5 208.7 V234.1"/>
<path d="M595.4 275 V284.7 H614.2"/>
<path d="M595.4 275 H603.7"/>
<path d="M603.7 270.6 V279.4 H609.4"/>
<path d="M603.7 270.6 H609.8"/>
<path d="M609.8 264.1 V274.6"/>
<path d="M588.8 289.5 V294.6 H600"/>
<path d="M588.8 289.5 H610.7"/>
<path d="M593.4 307.4 V314.2 H608.4"/>
<path d="M593.4 307.4 H599.8"/>
<path d="M599.8 304.1 V309.2 H615.7"/>
<path d="M599.8 304.1 H619.9"/>
<path d="M554.2 326.3 V334.7 H593.2"/>
<path d="M554.2 326.3 H601"/>
<path d="M601 322.4 V329.7 H612.6"/>
<path d="M601 322.4 H622.6"/>
<path d="M622.6 319.3 V324.6 H634.8"/>
<path d="M622.6 319.3 H638.5"/>
<path d="M484.2 340 V360.1"/>
<path d="M469.6 428.5 V440.7 H472.7"/>
<path d="M469.4 415 V428.5"/>
<path d="M471.1 415 V428.5"/>
<path d="M469.4 415 H472.1"/>
<path d="M472.1 400.9 V415"/>
<path d="M473.2 382 V401"/>
<path d="M472.7 400.9 H482.4"/>
<path d="M469.6 428.5 H474.9"/>
<path d="M474.9 420.2 V435.5"/>
<path d="M474.9 420.2 H478.8"/>
<path d="M474.9 425.6 H478.8"/>
<path d="M474.9 435.5 H481.5"/>
<path d="M455.5 468.2 V505.9 H460.1"/>
<path d="M455.5 468.2 H461.6"/>
<path d="M461.4 445.3 V511"/>
<path d="M423.7 603.4 V647.2 H429.5"/>
<path d="M421.4 625 H423.7"/>
<path d="M423.7 603.4 H427.2"/>
<path d="M427.2 589.6 V616.6 H429.3"/>
<path d="M427.2 589.6 H433.6"/>
<path d="M433.6 569.9 V609.3 H435"/>
<path d="M433.6 569.9 H439.2"/>
<path d="M439.2 531.2 V601.7"/>
<path d="M430.1 621.8 V657"/>
<path d="M427.2 662 V717.4"/>
</g>
<circle cx="436" cy="438.3" r="2.6" fill="#000"/>
<circle cx="446.4" cy="389.3" r="2.6" fill="#000"/>
<circle cx="458.3" cy="350.2" r="2.6" fill="#000"/>
<circle cx="538.5" cy="315.4" r="2.6" fill="#000"/>
<circle cx="568.3" cy="289.3" r="2.6" fill="#000"/>
<circle cx="583.1" cy="279.2" r="2.6" fill="#000"/>
<circle cx="612.9" cy="252.3" r="2.6" fill="#000"/>
<circle cx="618" cy="245.3" r="2.6" fill="#000"/>
<circle cx="621.6" cy="235.6" r="2.6" fill="#000"/>
<circle cx="595.4" cy="279.8" r="2.6" fill="#000"/>
<circle cx="603.7" cy="275" r="2.6" fill="#000"/>
<circle cx="593.4" cy="311" r="2.6" fill="#000"/>
<circle cx="599.8" cy="307.4" r="2.6" fill="#000"/>
<circle cx="554.2" cy="330.1" r="2.6" fill="#000"/>
<circle cx="601" cy="326.3" r="2.6" fill="#000"/>
<circle cx="622.6" cy="322.4" r="2.6" fill="#000"/>
<circle cx="469.6" cy="428.5" r="2.6" fill="#000"/>
<circle cx="474.9" cy="430.7" r="2.6" fill="#000"/>
<circle cx="455.5" cy="487.4" r="2.6" fill="#000"/>
<circle cx="454.7" cy="505.9" r="2.6" fill="#000"/>
<circle cx="430.6" cy="520.3" r="2.6" fill="#000"/>
<circle cx="427.2" cy="603.4" r="2.6" fill="#000"/>
<circle cx="423.1" cy="625" r="2.6" fill="#000"/>
<circle cx="433.6" cy="589.6" r="2.6" fill="#000"/>
<circle cx="609" cy="272" r="2.6" fill="#000"/>
<circle cx="423.8" cy="480.4" r="2.2" fill="#fff" stroke="#000" stroke-width="1.0"/>
<circle cx="549.3" cy="300.2" r="2.2" fill="#fff" stroke="#000" stroke-width="1.0"/>
<circle cx="585.6" cy="266.1" r="2.2" fill="#fff" stroke="#000" stroke-width="1.0"/>
<circle cx="588.8" cy="292.4" r="2.2" fill="#fff" stroke="#000" stroke-width="1.0"/>
<circle cx="624.5" cy="208.7" r="2.3" fill="#f5c300" stroke="#000" stroke-width="0.9"/>
<circle cx="624.5" cy="214.0" r="2.3" fill="#f5c300" stroke="#000" stroke-width="0.9"/>
<circle cx="624.5" cy="219.2" r="2.3" fill="#f5c300" stroke="#000" stroke-width="0.9"/>
<circle cx="624.5" cy="224.2" r="2.3" fill="#f5c300" stroke="#000" stroke-width="0.9"/>
<circle cx="624.5" cy="229.2" r="2.3" fill="#f5c300" stroke="#000" stroke-width="0.9"/>
<circle cx="623.3" cy="234.1" r="2.3" fill="#f5c300" stroke="#000" stroke-width="0.9"/>
<circle cx="627" cy="239.1" r="2.3" fill="#f5c300" stroke="#000" stroke-width="0.9"/>
<circle cx="625.7" cy="244.3" r="2.3" fill="#f5c300" stroke="#000" stroke-width="0.9"/>
<circle cx="624.7" cy="249.5" r="2.3" fill="#f5c300" stroke="#000" stroke-width="0.9"/>
<circle cx="622.4" cy="254.5" r="2.3" fill="#f5c300" stroke="#000" stroke-width="0.9"/>
<circle cx="614.7" cy="259.3" r="2.3" fill="#f5c300" stroke="#000" stroke-width="0.9"/>
<circle cx="609.4" cy="279.4" r="2.3" fill="#f5c300" stroke="#000" stroke-width="0.9"/>
<circle cx="614.2" cy="284.7" r="2.3" fill="#f5c300" stroke="#000" stroke-width="0.9"/>
<circle cx="610.7" cy="289.5" r="2.3" fill="#f5c300" stroke="#000" stroke-width="0.9"/>
<circle cx="600" cy="294.7" r="2.3" fill="#f5c300" stroke="#000" stroke-width="0.9"/>
<circle cx="609.8" cy="264.1" r="2.3" fill="#5e9cf0"/>
<circle cx="609.8" cy="269.6" r="2.3" fill="#5e9cf0"/>
<circle cx="610.5" cy="274.6" r="2.3" fill="#5e9cf0"/>
<circle cx="583.4" cy="299.5" r="2.2" fill="#5f8090"/>
<circle cx="608.4" cy="314.2" r="2.2" fill="#21892c"/>
<circle cx="619.9" cy="304.1" r="2.2" fill="#63bcd9"/>
<circle cx="615.7" cy="309.2" r="2.2" fill="#63bcd9"/>
<circle cx="593.2" cy="334.8" r="2.3" fill="#f07a1e"/>
<circle cx="612.6" cy="329.7" r="2.2" fill="#881c98"/>
<circle cx="638.5" cy="319.3" r="2.2" fill="#881c98"/>
<circle cx="634.8" cy="324.6" r="2.2" fill="#881c98"/>
<circle cx="484.2" cy="340" r="2.3" fill="#2140d2"/>
<circle cx="484.2" cy="345.2" r="2.3" fill="#2140d2"/>
<circle cx="484.2" cy="350" r="2.3" fill="#2140d2"/>
<circle cx="484.2" cy="355.2" r="2.3" fill="#2140d2"/>
<circle cx="484.2" cy="360.1" r="2.3" fill="#2140d2"/>
<circle cx="497.3" cy="365.2" r="2.2" fill="#1a7d7d" stroke="#000" stroke-width="0.9"/>
<circle cx="476" cy="370" r="2.3" fill="#f25b5b"/>
<circle cx="476" cy="375.2" r="2.3" fill="#f25b5b"/>
<circle cx="476" cy="380" r="2.3" fill="#f25b5b"/>
<circle cx="476" cy="382.5" r="2.3" fill="#f25b5b"/>
<circle cx="476" cy="385" r="2.3" fill="#f25b5b"/>
<circle cx="474.9" cy="391" r="2.3" fill="#f25b5b"/>
<circle cx="476" cy="394.8" r="2.3" fill="#f25b5b"/>
<circle cx="472.7" cy="400.9" r="2.3" fill="#f25b5b"/>
<circle cx="476" cy="404.8" r="2.3" fill="#f25b5b"/>
<circle cx="476" cy="407.2" r="2.3" fill="#f25b5b"/>
<circle cx="476" cy="409.5" r="2.3" fill="#f25b5b"/>
<circle cx="476" cy="411.6" r="2.3" fill="#f25b5b"/>
<circle cx="471.6" cy="415.8" r="2.3" fill="#f25b5b"/>
<circle cx="475.4" cy="415.5" r="2.3" fill="#f25b5b"/>
<circle cx="472.7" cy="440.7" r="2.3" fill="#f25b5b"/>
<circle cx="461.6" cy="445.3" r="2.3" fill="#f25b5b"/>
<circle cx="461.6" cy="450.4" r="2.3" fill="#f25b5b"/>
<circle cx="461.6" cy="455.5" r="2.3" fill="#f25b5b"/>
<circle cx="461.6" cy="460.7" r="2.3" fill="#f25b5b"/>
<circle cx="461.6" cy="465.8" r="2.3" fill="#f25b5b"/>
<circle cx="461.6" cy="468.2" r="2.3" fill="#f25b5b"/>
<circle cx="461.6" cy="470.9" r="2.3" fill="#f25b5b"/>
<circle cx="461.6" cy="476" r="2.3" fill="#f25b5b"/>
<circle cx="461.6" cy="481.1" r="2.3" fill="#f25b5b"/>
<circle cx="461.6" cy="486.2" r="2.3" fill="#f25b5b"/>
<circle cx="461.6" cy="491" r="2.3" fill="#f25b5b"/>
<circle cx="460.1" cy="496.4" r="2.3" fill="#f25b5b"/>
<circle cx="460.1" cy="501.2" r="2.3" fill="#f25b5b"/>
<circle cx="460.1" cy="505.9" r="2.3" fill="#f25b5b"/>
<circle cx="460.1" cy="511" r="2.3" fill="#f25b5b"/>
<circle cx="432.1" cy="526.4" r="2.3" fill="#f25b5b"/>
<circle cx="439.2" cy="531.2" r="2.3" fill="#f25b5b"/>
<circle cx="439.2" cy="536.3" r="2.3" fill="#f25b5b"/>
<circle cx="439.2" cy="541.4" r="2.3" fill="#f25b5b"/>
<circle cx="439.2" cy="546.6" r="2.3" fill="#f25b5b"/>
<circle cx="439.2" cy="551.7" r="2.3" fill="#f25b5b"/>
<circle cx="439.2" cy="556.8" r="2.3" fill="#f25b5b"/>
<circle cx="439.2" cy="561.9" r="2.3" fill="#f25b5b"/>
<circle cx="439.2" cy="567" r="2.3" fill="#f25b5b"/>
<circle cx="439.2" cy="576.9" r="2.3" fill="#f25b5b"/>
<circle cx="439.2" cy="581.6" r="2.3" fill="#f25b5b"/>
<circle cx="439.2" cy="586.8" r="2.3" fill="#f25b5b"/>
<circle cx="439.5" cy="591.8" r="2.3" fill="#f25b5b"/>
<circle cx="439.5" cy="596.8" r="2.3" fill="#f25b5b"/>
<circle cx="439.5" cy="601.7" r="2.3" fill="#f25b5b"/>
<circle cx="435.1" cy="606.4" r="2.3" fill="#f25b5b"/>
<circle cx="434.8" cy="611.6" r="2.3" fill="#f25b5b"/>
<circle cx="429.3" cy="616.9" r="2.3" fill="#f25b5b"/>
<circle cx="430.1" cy="621.8" r="2.3" fill="#f25b5b"/>
<circle cx="430.1" cy="626.8" r="2.3" fill="#f25b5b"/>
<circle cx="430.1" cy="632" r="2.3" fill="#f25b5b"/>
<circle cx="430.1" cy="657.0" r="2.3" fill="#f25b5b"/>
<circle cx="427.2" cy="662.1" r="2.3" fill="#f25b5b"/>
<circle cx="427.2" cy="667.2" r="2.3" fill="#f25b5b"/>
<circle cx="427.2" cy="672.1" r="2.3" fill="#f25b5b"/>
<circle cx="427.2" cy="677.1" r="2.3" fill="#f25b5b"/>
<circle cx="427.2" cy="682.1" r="2.3" fill="#f25b5b"/>
<circle cx="427.2" cy="687" r="2.3" fill="#f25b5b"/>
<circle cx="427.2" cy="690" r="2.3" fill="#f25b5b"/>
<circle cx="427.2" cy="692.3" r="2.3" fill="#f25b5b"/>
<circle cx="427.2" cy="697.3" r="2.3" fill="#f25b5b"/>
<circle cx="427.2" cy="702.5" r="2.3" fill="#f25b5b"/>
<circle cx="427.2" cy="707.5" r="2.3" fill="#f25b5b"/>
<circle cx="482.4" cy="400.4" r="2.2" fill="#f25b5b" stroke="#000" stroke-width="0.9"/>
<circle cx="478.8" cy="420.2" r="2.2" fill="#f25b5b" stroke="#000" stroke-width="0.9"/>
<circle cx="478.8" cy="425.6" r="2.2" fill="#f25b5b" stroke="#000" stroke-width="0.9"/>
<circle cx="478.8" cy="430.7" r="2.2" fill="#f25b5b" stroke="#000" stroke-width="0.9"/>
<circle cx="481.5" cy="435.5" r="2.2" fill="#f25b5b" stroke="#000" stroke-width="0.9"/>
<circle cx="434.3" cy="515.9" r="2.2" fill="#f25b5b" stroke="#000" stroke-width="0.9"/>
<circle cx="432.7" cy="521" r="2.2" fill="#f25b5b" stroke="#000" stroke-width="0.9"/>
<circle cx="439.2" cy="571.3" r="2.2" fill="#f25b5b" stroke="#000" stroke-width="0.9"/>
<circle cx="430.1" cy="636.7" r="2.2" fill="#f25b5b" stroke="#000" stroke-width="0.9"/>
<circle cx="430.1" cy="642" r="2.2" fill="#f25b5b" stroke="#000" stroke-width="0.9"/>
<circle cx="430.1" cy="647.2" r="2.2" fill="#f25b5b" stroke="#000" stroke-width="0.9"/>
<circle cx="430.1" cy="652.1" r="2.2" fill="#f25b5b" stroke="#000" stroke-width="0.9"/>
<circle cx="427.2" cy="712.5" r="2.2" fill="#f25b5b" stroke="#000" stroke-width="0.9"/>
<circle cx="427.2" cy="717.4" r="2.2" fill="#f25b5b" stroke="#000" stroke-width="0.9"/>
<g class="ss" font-style="italic" stroke-width="0.3">
<text x="632.4" y="228" font-size="10.6" fill="#f2c10a" stroke="#f2c10a">C. psittaci</text>
<text x="617.8" y="274" font-size="10.4" fill="#5f96ea" stroke="#5f96ea">C. abortus</text>
<text x="625" y="309.8" font-size="9.4" fill="#5fb7d8" stroke="#5fb7d8">C. gallinacea</text>
<text x="563" y="308.6" font-size="8.2" fill="#6a7f8a" stroke="#6a7f8a">C. felis</text>
<text x="566.2" y="321.4" font-size="8.2" fill="#23892a" stroke="#23892a">C. avium</text>
<text x="641" y="330.5" font-size="8.1" fill="#7e1a8e" stroke="#7e1a8e">C. pecorum</text>
<text x="589" y="348" font-size="10.3" fill="#ef7a22" stroke="#ef7a22">C. pneumoniae</text>
<text x="489.8" y="352" font-size="10.4" fill="#2435c8" stroke="#2435c8">C. muridarum</text>
<text x="502" y="369.5" font-size="10.4" fill="#1f8a8a" stroke="#1f8a8a">C. suis</text>
<text x="488.8" y="413.9" font-size="10.5" fill="#ee5e5e" stroke="#ee5e5e">C. trachomatis</text>
</g>
<rect x="499.1" y="514" width="183.8" height="208.9" fill="none" stroke="#333" stroke-width="1.4"/>
<text class="ss" x="506.4" y="531.8" font-size="11.6" font-weight="bold" fill="#000">D</text>
<g fill="none" stroke="#000" stroke-width="1.4">
<path d="M499.1 671.8 H512.8"/>
<path d="M512.8 647.6 V695.1 H523"/>
<path d="M512.8 647.6 H517.4"/>
<path d="M517.4 622.1 V671.4"/>
<path d="M517.4 622.1 H567.3"/>
<path d="M512.8 672.3 H535.6"/>
<path d="M567.3 609.3 V635 H571"/>
<path d="M567.3 609.3 H576.6"/>
<path d="M576.6 592.5 V626.2 H584.8"/>
<path d="M576.6 592.5 H583.9"/>
<path d="M584.2 592.5 V610.1 H589.2"/>
<path d="M585.7 610.1 V616.9"/>
<path d="M585.7 603 H589.7"/>
<path d="M589.7 598.3 V607.5"/>
<path d="M589.7 598.3 H593.2"/>
<path d="M589.7 607.5 H591.1"/>
<path d="M585.2 579.6 V589.2"/>
<path d="M585.2 579.6 H588.7"/>
<path d="M588.7 543.2 V579.6"/>
<path d="M535.6 664 V681.1 H569.5"/>
<path d="M535.6 664 H550.8"/>
<path d="M550.8 655.8 V671.8 H561.3"/>
<path d="M550.8 655.8 H562.2"/>
<path d="M523 690.5 V699.6 H543.8"/>
<path d="M523 690.5 H563.9"/>
</g>
<circle cx="512.8" cy="671.8" r="4.1" fill="#000"/>
<circle cx="535.6" cy="672.3" r="4.2" fill="#000"/>
<circle cx="550.8" cy="664" r="4.0" fill="#000"/>
<circle cx="567.3" cy="622.1" r="4.1" fill="#000"/>
<circle cx="576.6" cy="609.3" r="4.0" fill="#000"/>
<circle cx="583.9" cy="592.5" r="4.0" fill="#000"/>
<circle cx="585.7" cy="610.1" r="3.5" fill="#000"/>
<circle cx="589.7" cy="603" r="3.5" fill="#000"/>
<circle cx="562.5" cy="659.5" r="3.2" fill="#000"/>
<circle cx="517.4" cy="647.6" r="3.8" fill="#fff" stroke="#000" stroke-width="1.3"/>
<circle cx="523" cy="695.1" r="3.8" fill="#fff" stroke="#000" stroke-width="1.3"/>
<circle cx="562.2" cy="644.7" r="3.9" fill="#5c9cf2"/>
<circle cx="562.2" cy="654" r="3.9" fill="#5c9cf2"/>
<circle cx="563.3" cy="662.8" r="3.9" fill="#5c9cf2"/>
<circle cx="588.7" cy="543.2" r="3.4" fill="#f8c800" stroke="#000" stroke-width="1.3"/>
<circle cx="588.7" cy="552.3" r="3.4" fill="#f8c800" stroke="#000" stroke-width="1.3"/>
<circle cx="588.7" cy="561.6" r="3.4" fill="#f8c800" stroke="#000" stroke-width="1.3"/>
<circle cx="588.7" cy="570.3" r="3.4" fill="#f8c800" stroke="#000" stroke-width="1.3"/>
<circle cx="588.7" cy="579.6" r="3.4" fill="#f8c800" stroke="#000" stroke-width="1.3"/>
<circle cx="586.4" cy="589.2" r="3.4" fill="#f8c800" stroke="#000" stroke-width="1.3"/>
<circle cx="593.2" cy="598.3" r="3.4" fill="#f8c800" stroke="#000" stroke-width="1.3"/>
<circle cx="591.1" cy="607.5" r="3.4" fill="#f8c800" stroke="#000" stroke-width="1.3"/>
<circle cx="589.2" cy="616.9" r="3.4" fill="#f8c800" stroke="#000" stroke-width="1.3"/>
<circle cx="584.8" cy="626.2" r="3.4" fill="#f8c800" stroke="#000" stroke-width="1.3"/>
<circle cx="571" cy="635" r="3.4" fill="#f8c800" stroke="#000" stroke-width="1.3"/>
<circle cx="561.3" cy="671.8" r="3.4" fill="#f8c800" stroke="#000" stroke-width="1.3"/>
<circle cx="569.5" cy="681.3" r="3.4" fill="#f8c800" stroke="#000" stroke-width="1.3"/>
<circle cx="563.9" cy="690.6" r="3.4" fill="#f8c800" stroke="#000" stroke-width="1.3"/>
<circle cx="543.8" cy="699.6" r="3.4" fill="#f8c800" stroke="#000" stroke-width="1.3"/>
<g class="ss" font-size="10.2" fill="#000" stroke="#000" stroke-width="0.25">
<text x="597.8" y="546.85">C19 98</text>
<text x="597.8" y="555.95">84 55</text>
<text x="597.8" y="565.25">08DC60</text>
<text x="597.8" y="573.95">02DC15</text>
<text x="597.8" y="583.25">01DC11</text>
<text x="594" y="592.85">6BC</text>
<text x="603.3" y="601.95">MN</text>
<text x="599.2" y="611.15">WS RT E30</text>
<text x="596.1" y="620.55">CP3</text>
<text x="592.6" y="629.85">Mat116</text>
<text x="577.8" y="638.65">M56</text>
<text x="570.2" y="675.45">VS225</text>
<text x="577.8" y="684.95">GR9</text>
<text x="574.3" y="694.25">WC</text>
<text x="552" y="703.25">NJ1</text>
</g>
</svg></body></html>
